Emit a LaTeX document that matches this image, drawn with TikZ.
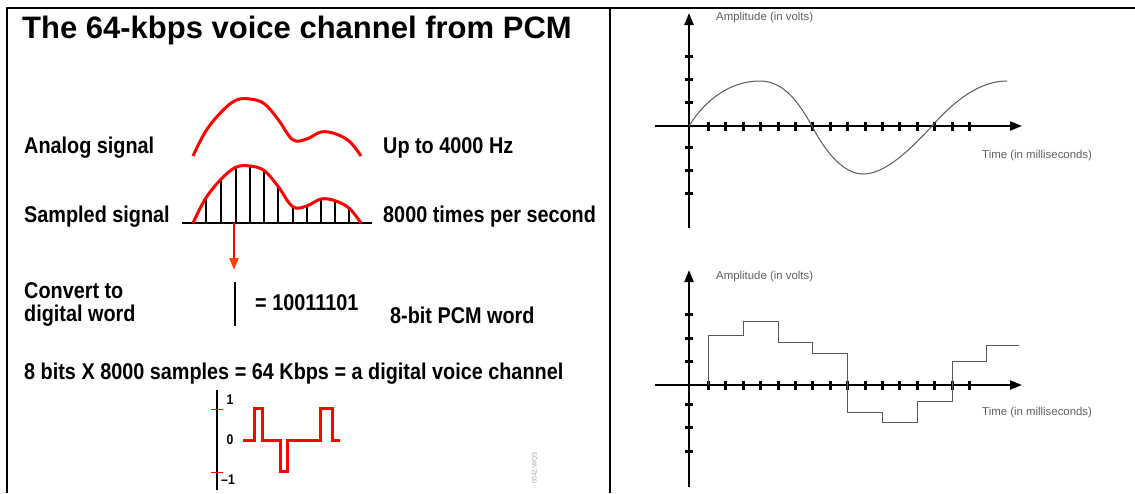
\documentclass[tikz,border=0pt]{standalone}
\usepackage{fontspec}
\setmainfont{Liberation Sans}
\newfontfamily\narrowsans[FakeStretch=0.87]{Liberation Sans}
\usetikzlibrary{arrows.meta}

\begin{document}
\begin{tikzpicture}[x=1pt, y=-1pt,
    lbl/.style={anchor=base west, inner sep=0pt,
                font=\narrowsans\fontsize{22.8}{23}\selectfont\bfseries},
    smalllbl/.style={inner sep=0pt, font=\narrowsans\fontsize{14}{14}\selectfont\bfseries},
    redcurve/.style={red, line width=3pt, line join=round},
    sampleline/.style={black, line width=2pt},
    axis/.style={black, line width=2.2pt, -{Triangle[length=12pt, width=9pt]}},
    tickmark/.style={black, line width=3pt},
    trace/.style={gray!70!black, line width=1pt},
    axlbl/.style={anchor=west, inner sep=0pt, text=gray!75!black,
                  font=\fontsize{11.4}{12}\selectfont},
  ]
  \useasboundingbox (0,0) rectangle (1135,493);

  % Frame
  \draw[line width=2pt] (6.5,493) -- (6.5,8) -- (1135,8);
  \draw[line width=2pt] (610,8) -- (610,493);

  % Left panel: texts
  \node[anchor=base west, inner sep=0pt, font=\fontsize{31}{32}\selectfont\bfseries]
    (title) at (22,38) {The 64-kbps voice channel from PCM};
  \node[lbl] (analog) at (24,153) {Analog signal};
  \node[lbl] (band) at (383,153) {Up to 4000 Hz};
  \node[lbl] (sampled) at (24,222) {Sampled signal};
  \node[lbl] (rate) at (383,222) {8000 times per second};
  \node[lbl, anchor=north west, align=left] (convert) at (24,282.5)
    {Convert to\\digital word};
  \node[lbl] (code) at (255,310) {= 10011101};
  \node[lbl] (pcmword) at (390,323) {8-bit PCM word};
  \node[lbl] (total) at (24,379)
    {8 bits X 8000 samples = 64 Kbps = a digital voice channel};

  % Analog signal
  \draw[redcurve] plot[smooth, tension=0.6] coordinates {(193,156) (205.7,131.3)
    (221,112.3) (235.7,100.3) (250,99) (264.3,103.7) (278.3,119.7) (292.7,139.7)
    (306.7,139) (321,132) (335,133.7) (349.3,141.3) (361,156)};

  % Sampled signal
  \foreach \sx/\sy in {205.7/198.3, 221/179.3, 235.7/167.3, 250/166, 264.3/170.7,
      278.3/186.7, 292.7/206.7, 306.7/206, 321/199, 335/200.7, 349.3/208.3}
    \draw[sampleline] (\sx,223) -- (\sx,\sy);
  \draw[black, line width=1.5pt] (182,223) -- (372,223);
  \draw[redcurve] plot[smooth, tension=0.6] coordinates {(193,223) (205.7,198.3)
    (221,179.3) (235.7,167.3) (250,166) (264.3,170.7) (278.3,186.7) (292.7,206.7)
    (306.7,206) (321,199) (335,200.7) (349.3,208.3) (361,223)};

  % Sample taken to the digital word
  \coordinate (pick) at (234,223);
  \coordinate (pickend) at (234,270);
  \draw[red, line width=2pt, -{Triangle[length=12pt, width=9pt, color=orange!50!red]}]
    (pick) -- (pickend);
  \coordinate (wtop) at (235,282);
  \coordinate (wbot) at (235,326);
  \draw[black, line width=2pt] (wtop) -- (wbot);

  % Digital voice waveform
  \draw[black, line width=1.5pt] (217,390) -- (217,490);
  \draw[red, line width=1pt] (211,409) -- (223,409);
  \draw[red, line width=1pt] (211,472) -- (223,472);
  \node[smalllbl] (one) at (230,400) {1};
  \node[smalllbl] (zero) at (230,440) {0};
  \node[smalllbl] (minusone) at (228,480) {–1};
  \draw[redcurve, line join=miter] (243,440) -- (254,440) -- (254,408) -- (262,408)
    -- (262,440) -- (280,440) -- (280,471) -- (287,471) -- (287,440) -- (320,440)
    -- (320,408) -- (332,408) -- (332,440) -- (340,440);
  \node[rotate=90, inner sep=0pt, text=gray!70, font=\fontsize{6.5}{7}\selectfont]
    (artno) at (535,468) {0042.WQS};

  % Right panel, upper: analog waveform
  \begin{scope}[shift={(689,126)}]
    \draw[axis] (0,102) -- (0,-113);
    \draw[axis] (-34,0) -- (333,0);
    \foreach \ty in {-70,-46.7,-23.3,21,44.3,67}
      \draw[tickmark] (-4,\ty) -- (4,\ty);
    \foreach \i in {1,...,16}
      \draw[tickmark] ({2+17.4*\i},-4.5) -- ({2+17.4*\i},4.5);
    \draw[trace] (0,0) .. controls (16,-26) and (41,-45) .. (71,-45)
      .. controls (96,-45) and (111,-21) .. (123,0)
      .. controls (138,29) and (156,48) .. (174,48)
      .. controls (196,48) and (221,24) .. (243,0)
      .. controls (266,-26) and (291,-45) .. (318,-45);
    \node[axlbl] (amp1) at (27,-108) {Amplitude (in volts)};
    \node[axlbl] (time1) at (293,30) {Time (in milliseconds)};
  \end{scope}

  % Right panel, lower: quantized waveform
  \begin{scope}[shift={(689,385)}]
    \draw[axis] (0,102) -- (0,-115);
    \draw[axis] (-34,0) -- (333,0);
    \foreach \ty in {-70.5,-47,-23.7,19.5,42.8,66}
      \draw[tickmark] (-4,\ty) -- (4,\ty);
    \foreach \i in {1,...,16}
      \draw[tickmark] ({2+17.4*\i},-4.5) -- ({2+17.4*\i},4.5);
    \draw[trace] (19.4,0) -- (19.4,-50) -- (54.2,-50) -- (54.2,-63.3) -- (89,-63.3)
      -- (89,-42.3) -- (123.8,-42.3) -- (123.8,-31.7) -- (158.6,-31.7)
      -- (158.6,27.3) -- (193.4,27.3) -- (193.4,37.7) -- (228.2,37.7)
      -- (228.2,16.7) -- (263,16.7) -- (263,-24) -- (297.8,-24)
      -- (297.8,-39.3) -- (330,-39.3);
    \node[axlbl] (amp2) at (27,-108.3) {Amplitude (in volts)};
    \node[axlbl] (time2) at (293,28) {Time (in milliseconds)};
  \end{scope}
\end{tikzpicture}
\end{document}
